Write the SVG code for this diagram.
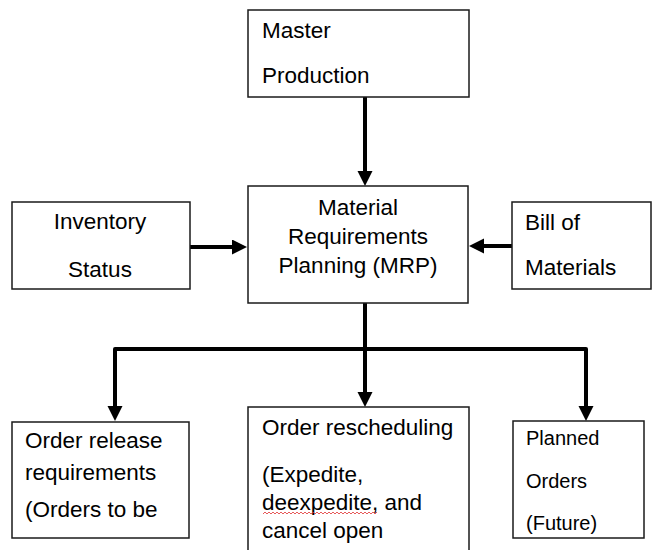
<svg xmlns="http://www.w3.org/2000/svg" width="652" height="550" viewBox="0 0 652 550">
<style>
.box{fill:#fff;stroke:#1a1a1a;stroke-width:1.5}
.t{font-family:"Liberation Sans",Arial,sans-serif;font-size:22.5px;fill:#000}
.s{font-size:20px}
.m{text-anchor:middle}
.c{fill:none;stroke:#000;stroke-width:4;stroke-linejoin:round}
</style>
<defs>
<marker id="ah" markerUnits="userSpaceOnUse" markerWidth="16" markerHeight="16" refX="4" refY="7.5" orient="auto">
<path d="M0,0 L15,7.5 L0,15 z" fill="#000"/>
</marker>
</defs>
<rect width="652" height="550" fill="#fff"/>
<g id="connectors">
<path class="c" d="M365,97 V175" marker-end="url(#ah)"/>
<path class="c" d="M190,247 H236" marker-end="url(#ah)"/>
<path class="c" d="M512,246 H480" marker-end="url(#ah)"/>
<path class="c" d="M365,303 V396" marker-end="url(#ah)"/>
<path class="c" d="M365,349 H115 V410" marker-end="url(#ah)"/>
<path class="c" d="M365,349 H586 V410" marker-end="url(#ah)"/>
</g>
<g id="master">
<rect class="box" x="248" y="10" width="221" height="87"/>
<text class="t" x="262" y="38">Master</text>
<text class="t" x="262" y="83">Production</text>
</g>
<g id="inventory">
<rect class="box" x="12" y="202" width="178" height="87"/>
<text class="t m" x="100" y="229">Inventory</text>
<text class="t m" x="100" y="277">Status</text>
</g>
<g id="mrp">
<rect class="box" x="248" y="186" width="220" height="117"/>
<text class="t m" x="358" y="215">Material</text>
<text class="t m" x="358" y="244">Requirements</text>
<text class="t m" x="358" y="273">Planning (MRP)</text>
</g>
<g id="bom">
<rect class="box" x="512" y="202" width="139" height="87"/>
<text class="t" x="525" y="230">Bill of</text>
<text class="t" x="525" y="275">Materials</text>
</g>
<g id="order-release">
<rect class="box" x="12" y="422" width="177" height="116"/>
<text class="t" x="25" y="448">Order release</text>
<text class="t" x="25" y="480">requirements</text>
<text class="t" x="25" y="517">(Orders to be</text>
</g>
<g id="rescheduling">
<rect class="box" x="248" y="407" width="221" height="160"/>
<text class="t" x="262" y="435">Order rescheduling</text>
<text class="t" x="262" y="482">(Expedite,</text>
<text class="t" x="262" y="510">deexpedite, and</text>
<text class="t" x="262" y="538">cancel open</text>
<path d="M263,514 l2,-2 l2,2 l2,-2 l2,2 l2,-2 l2,2 l2,-2 l2,2 l2,-2 l2,2 l2,-2 l2,2 l2,-2 l2,2 l2,-2 l2,2 l2,-2 l2,2 l2,-2 l2,2 l2,-2 l2,2 l2,-2 l2,2 l2,-2 l2,2 l2,-2 l2,2 l2,-2 l2,2 l2,-2 l2,2 l2,-2 l2,2 l2,-2 l2,2 l2,-2 l2,2 l2,-2 l2,2 l2,-2 l2,2 l2,-2 l2,2 l2,-2 l2,2 l2,-2 l2,2 l2,-2 l2,2 l2,-2 l2,2 l2,-2 l2,2 l2,-2 l2,2 l2,-2" fill="none" stroke="#e03030" stroke-width="0.8"/>
</g>
<g id="planned">
<rect class="box" x="513" y="421" width="131" height="117"/>
<text class="t s" x="526" y="445">Planned</text>
<text class="t s" x="526" y="488">Orders</text>
<text class="t s" x="526" y="530">(Future)</text>
</g>
</svg>
